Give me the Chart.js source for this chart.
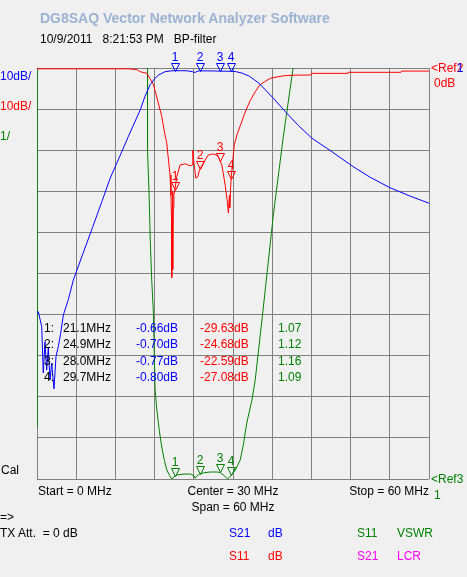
<!DOCTYPE html>
<html>
<head>
<meta charset="utf-8">
<title>BP-filter</title>
<script src="https://cdn.jsdelivr.net/npm/chart.js@4.4.1/dist/chart.umd.min.js"></script>
<style>
  html, body { margin: 0; padding: 0; background: #f0f0f0; }
  #wrap { position: relative; width: 467px; height: 577px; overflow: hidden; }
  #chart { position: absolute; left: 0; top: 0; }
  .t { position: absolute; font: 12px "Liberation Sans", Arial, sans-serif; line-height: 12px; white-space: pre; color: #000; }
  .title { font-weight: bold; font-size: 14px; line-height: 14px; color: #9bb2d3; }
  .blue { color: #0000ff; }
  .red { color: #ff0000; }
  .green { color: #008000; }
  .mag { color: #ff00ff; }
  .hide { color: transparent; }
</style>
</head>
<body>
<div id="wrap">
  <canvas id="chart" width="467" height="577"></canvas>

  <div class="t title" style="left:40px; top:11px;">DG8SAQ Vector Network Analyzer Software</div>
  <div class="t" style="left:40px; top:33px;">10/9/2011   8:21:53 PM   BP-filter</div>

  <div class="t blue" style="left:0; top:70px;">10dB/</div>
  <div class="t red" style="left:0; top:100px;">10dB/</div>
  <div class="t green" style="left:0; top:130px;">1/</div>

  <div class="t red" style="left:431px; top:62px;">&lt;Ref2</div>
  <div class="t blue" style="left:431px; top:62px;"><span class="hide">&lt;Ref</span>1</div>
  <div class="t red" style="left:434px; top:77px;">0dB</div>
  <div class="t green" style="left:431px; top:473px;">&lt;Ref3</div>
  <div class="t green" style="left:434px; top:489px;">1</div>

  <div class="t" style="left:1px; top:464px;">Cal</div>
  <div class="t" style="left:38px; top:485px;">Start = 0 MHz</div>
  <div class="t" style="left:133px; width:200px; text-align:center; top:485px;">Center = 30 MHz</div>
  <div class="t" style="right:38px; top:485px;">Stop = 60 MHz</div>
  <div class="t" style="left:133px; width:200px; text-align:center; top:501px;">Span = 60 MHz</div>

  <div class="t" style="left:0; top:511px;">=&gt;</div>
  <div class="t" style="left:0; top:527px;">TX Att.  = 0 dB</div>

  <div class="t blue" style="left:229px; top:527px;">S21</div>
  <div class="t blue" style="left:268px; top:527px;">dB</div>
  <div class="t green" style="left:357px; top:527px;">S11</div>
  <div class="t green" style="left:397px; top:527px;">VSWR</div>
  <div class="t red" style="left:229px; top:550px;">S11</div>
  <div class="t red" style="left:268px; top:550px;">dB</div>
  <div class="t mag" style="left:357px; top:550px;">S21</div>
  <div class="t mag" style="left:397px; top:550px;">LCR</div>

  <div id="table"></div>
</div>

<script>
// Frequency axis (MHz) and marker data
const xTicks = [0, 6, 12, 18, 24, 30, 36, 42, 48, 54, 60];
const markerFreqs = [21.1, 24.9, 28.0, 29.7];
const s21Markers = [-0.66, -0.70, -0.77, -0.80];
const s11Markers = [-29.63, -24.68, -22.59, -27.08];
const vswrMarkers = [1.07, 1.12, 1.16, 1.09];

// S21 trace (dB)
const s21Freq = [0, 0.2, 0.72, 0.96, 1.22, 1.48, 1.73, 1.99, 2.25, 2.6,
  2.91, 3.26, 3.63, 4.03, 4.79, 5.56, 7, 8.5, 10, 11.2,
  12.5, 14, 15.8, 16.5, 17.3, 18, 18.6, 19.6, 20.5, 21.1,
  22, 23, 23.8, 24.2, 24.5, 24.9, 26, 27, 28, 29,
  29.7, 30.5, 31.5, 32.5, 33.3, 34.1, 35, 36.2, 38, 40,
  42.1, 44.9, 48.2, 51, 54, 57, 60];
const s21dB = [-59.5, -59.3, -62.9, -74.2, -66.6, -73.5, -68.1, -75.9, -71.8, -78.1,
  -70.2, -67.8, -64.5, -60.1, -56.4, -51.6, -45.3, -38.8, -32.2, -26.8,
  -22.1, -16.6, -10.2, -7.0, -4.1, -2.6, -1.7, -0.9, -0.7, -0.66,
  -0.66, -0.68, -0.9, -1.1, -0.8, -0.70, -0.7, -0.72, -0.77, -0.78,
  -0.80, -0.9, -1.3, -2.0, -2.9, -3.9, -5.4, -7.4, -10.6, -14.0,
  -17.1, -20.1, -23.8, -26.6, -29.1, -31.1, -32.9];

// S11 trace (dB)
const s11Freq = [0, 0.1, 14, 15.3, 15.8, 16.8, 17.8, 18.5, 19.1, 19.5,
  19.86, 20.36, 20.5, 20.6, 20.62, 20.67, 20.75, 20.8, 20.85, 20.95,
  21.1, 21.4, 21.9, 22.7, 23.4, 23.75, 23.85, 23.95, 24.3, 24.6,
  24.9, 25.4, 26.2, 26.9, 27.7, 28.0, 28.3, 28.8, 29.1, 29.3,
  29.45, 29.5, 29.7, 29.9, 30.2, 30.6, 31.1, 31.8, 32.6, 33.4,
  34.1, 35.7, 37.7, 39.2, 41.9, 42.0, 47.5, 47.6, 55.7, 55.8,
  60];
const s11dB = [0, -0.2, -0.2, -0.4, -0.9, -1.3, -3.9, -8.1, -11.8, -15.5,
  -18.3, -26, -31, -37, -51, -38, -30, -49, -34, -31,
  -29.63, -26.4, -23.6, -23.3, -23.8, -23.6, -20.0, -22, -26.8, -26.5,
  -24.68, -23.3, -21.2, -20.9, -21.3, -22.59, -23.6, -28.5, -32, -35.3,
  -31, -34, -27.08, -23.6, -18.7, -16.3, -14.1, -11, -8, -5.8,
  -4.1, -2.5, -1.9, -1.75, -1.7, -1.3, -1.3, -1.05, -1.05, -0.75,
  -0.75];

// S11 VSWR trace
const vswrFreq = [0, 0.05, 16.9, 16.92, 17.15, 17.35, 17.56, 17.8, 18.07, 18.3,
  18.7, 19.09, 19.5, 19.86, 20.3, 20.62, 21.1, 21.5, 22.5, 23.5,
  24.0, 24.2, 24.5, 24.9, 25.5, 26.5, 27.5, 28.0, 28.5, 29.0,
  29.2, 29.7, 30.3, 31.1, 31.6, 32.1, 32.9, 33.4, 34.6, 36.2,
  37.7, 39.2, 39.5, 60];
const vswrVal = [2.27, 14, 14, 9.0, 7.96, 6.74, 5.84, 5.11, 3.2, 2.75,
  2.2, 1.78, 1.45, 1.22, 1.08, 1.0, 1.07, 1.10, 1.12, 1.12,
  1.08, 1.02, 1.08, 1.12, 1.15, 1.17, 1.17, 1.16, 1.1, 1.03,
  1.0, 1.09, 1.2, 1.46, 1.85, 2.36, 2.92, 3.41, 5.11, 7.46,
  9.33, 11.0, 14, 14];

const FONT = '12px "Liberation Sans", Arial, sans-serif';

function zip(xs, ys) {
  return xs.map(function (x, i) { return { x: x, y: ys[i] }; });
}

// Marker table below the traces
function buildTable() {
  const table = document.getElementById("table");
  const tops = [322, 338, 355, 371];
  markerFreqs.forEach(function (f, i) {
    const cells = [
      { left: 44, text: (i + 1) + ":", cls: "" },
      { left: 63, text: f.toFixed(1) + "MHz", cls: "" },
      { left: 136, text: s21Markers[i].toFixed(2) + "dB", cls: "blue" },
      { left: 200, text: s11Markers[i].toFixed(2) + "dB", cls: "red" },
      { left: 278, text: vswrMarkers[i].toFixed(2), cls: "green" },
    ];
    cells.forEach(function (c) {
      const d = document.createElement("div");
      d.className = "t " + c.cls;
      d.style.left = c.left + "px";
      d.style.top = tops[i] + "px";
      d.textContent = c.text;
      table.appendChild(d);
    });
  });
}

// Draw the marker triangles with their numbers
const markerPlugin = {
  id: "markers",
  afterDatasetsDraw(chart) {
    const ctx = chart.ctx;
    const sc = chart.scales;
    const sets = [
      { vals: s21Markers, axis: "y", color: "#0000ff" },
      { vals: s11Markers, axis: "y", color: "#ff0000" },
      { vals: vswrMarkers, axis: "y2", color: "#008000" },
    ];
    ctx.save();
    ctx.font = FONT;
    ctx.textAlign = "center";
    ctx.textBaseline = "alphabetic";
    ctx.lineWidth = 1;
    sets.forEach(function (s) {
      s.vals.forEach(function (v, i) {
        const px = Math.round(sc.x.getPixelForValue(markerFreqs[i]));
        const py = Math.round(sc[s.axis].getPixelForValue(v));
        ctx.strokeStyle = s.color;
        ctx.fillStyle = s.color;
        ctx.beginPath();
        ctx.moveTo(px - 4 + 0.5, py - 8 + 0.5);
        ctx.lineTo(px + 4 + 0.5, py - 8 + 0.5);
        ctx.lineTo(px + 0.5, py + 0.5);
        ctx.closePath();
        ctx.stroke();
        ctx.fillText(String(i + 1), px, py - 10);
      });
    });
    ctx.restore();
  },
};

function initChart() {
  const grid = { color: "#808080", lineWidth: 1, drawTicks: false };
  new Chart(document.getElementById("chart"), {
    type: "scatter",
    data: {
      datasets: [
        {
          label: "S21 dB",
          data: zip(s21Freq, s21dB),
          yAxisID: "y",
          showLine: true,
          borderColor: "#0000ff",
          borderWidth: 1,
          pointRadius: 0,
          tension: 0,
        },
        {
          label: "S11 dB",
          data: zip(s11Freq, s11dB),
          yAxisID: "y",
          showLine: true,
          borderColor: "#ff0000",
          borderWidth: 1,
          pointRadius: 0,
          tension: 0,
        },
        {
          label: "S11 VSWR",
          data: zip(vswrFreq, vswrVal),
          yAxisID: "y2",
          showLine: true,
          borderColor: "#008000",
          borderWidth: 1,
          pointRadius: 0,
          tension: 0,
        },
      ],
    },
    options: {
      responsive: false,
      animation: false,
      devicePixelRatio: 1,
      layout: { padding: { left: 37, top: 68, right: 38, bottom: 98 } },
      plugins: { legend: { display: false }, tooltip: { enabled: false } },
      scales: {
        x: {
          type: "linear",
          min: 0,
          max: 60,
          afterBuildTicks: function (axis) {
            axis.ticks = xTicks.map(function (v) { return { value: v }; });
          },
          ticks: { display: false },
          grid: grid,
          border: { display: false },
        },
        y: {
          min: -100,
          max: 0,
          ticks: { display: false, stepSize: 10 },
          grid: grid,
          border: { display: false },
        },
        y2: { min: 1, max: 11, display: false },
      },
    },
    plugins: [markerPlugin],
  });
}

document.addEventListener("DOMContentLoaded", function () {
  buildTable();
  initChart();
});
</script>
</body>
</html>
